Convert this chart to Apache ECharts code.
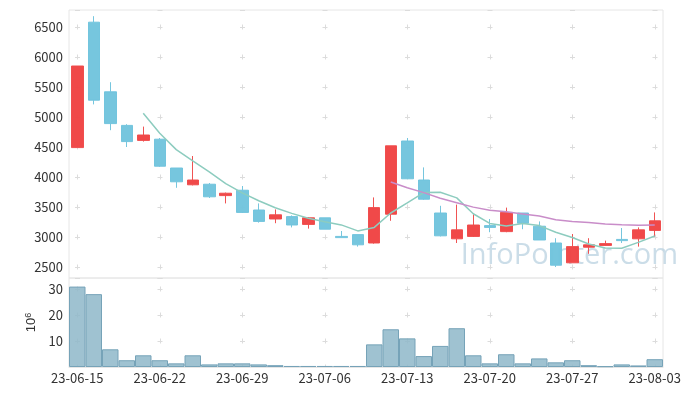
<!DOCTYPE html>
<html>
<head>
<meta charset="utf-8">
<script src="https://cdn.jsdelivr.net/npm/echarts@6/dist/echarts.min.js"></script>
<style>html,body{margin:0;padding:0;background:#fff}#c{width:696px;height:396px}</style>
</head>
<body>
<div id="c"></div>
<script>
const dates = ['23-06-15','23-06-16','23-06-19','23-06-20','23-06-21','23-06-22','23-06-23','23-06-26','23-06-27','23-06-28','23-06-29','23-06-30','23-07-03','23-07-04','23-07-05','23-07-06','23-07-07','23-07-10','23-07-11','23-07-12','23-07-13','23-07-14','23-07-17','23-07-18','23-07-19','23-07-20','23-07-21','23-07-24','23-07-25','23-07-26','23-07-27','23-07-28','23-07-31','23-08-01','23-08-02','23-08-03'];
const opens  = [4490,6580,5420,4860,4610,4630,4150,3870,3880,3690,3780,3450,3300,3340,3210,3320,3010,3040,2900,3380,4600,3950,3400,2970,3010,3190,3090,3400,3180,2900,2570,2830,2860,2960,2970,3110];
const closes = [5850,5280,4890,4590,4700,4180,3920,3950,3670,3730,3410,3260,3370,3200,3320,3130,2990,2870,3490,4520,3970,3630,3020,3120,3200,3160,3410,3230,2950,2530,2840,2870,2890,2940,3120,3270];
const lows   = [4490,5210,4780,4500,4590,4170,3820,3860,3650,3560,3400,3240,3230,3160,3140,3130,2990,2840,2890,3270,3970,3620,3010,2900,3000,3080,3080,3130,2950,2500,2570,2720,2855,2900,2840,3000];
const highs  = [5850,6680,5580,4880,4840,4650,4150,4350,3900,3740,3850,3560,3460,3360,3330,3320,3100,3040,3660,4520,4650,4160,3520,3540,3380,3300,3490,3400,3260,2980,3050,2980,2940,3150,3160,3410];
const volumes = [30.9,28.0,6.8,2.6,4.5,2.6,1.4,4.5,1.0,1.4,1.4,1.0,0.7,0.4,0.4,0.4,0.4,0.4,8.7,14.5,11.0,4.2,8.1,14.9,4.5,1.4,4.9,1.4,3.3,1.8,2.6,0.7,0.3,1.0,0.6,3.0];
const ma5  = ['-','-','-','-',5062,4728,4456,4268,4084,3890,3736,3604,3488,3394,3312,3256,3202,3102,3160,3400,3568,3740,3745,3652,3388,3226,3182,3224,3190,3080,2992,2884,2816,2814,2910,3018];
const ma20 = ['-','-','-','-','-','-','-','-','-','-','-','-','-','-','-','-','-','-','-',3916,3822,3740,3646,3572,3498,3446,3421,3385,3349,3289,3260,3241,3217,3204,3194,3201];
const priceTicks = [2500,3000,3500,4000,4500,5000,5500,6000,6500];
const volumeTicks = [10,20,30];

const candleData = dates.map((d, i) => [opens[i], closes[i], lows[i], highs[i]]);
const crossColor = '#dcdcdc';
const labelFont = {color:'#333', fontSize:13, fontFamily:'"Noto Sans CJK KR", "Noto Sans", sans-serif'};

const chart = echarts.init(document.getElementById('c'), null, {renderer:'canvas'});
chart.setOption({
  animation: false,
  backgroundColor: '#fff',
  graphic: [{
    type: 'text', right: 18, top: 241, z: 0,
    style: {text: 'InfoPointer.com', font: '29px "Open Sans"', fill: 'rgba(168,198,216,0.6)'}
  }],
  grid: [
    {left: 69, top: 10, width: 594, height: 268, show: true, borderColor: '#e6e6e6', borderWidth: 1},
    {left: 69, top: 278, width: 594, height: 89, show: true, borderColor: '#e6e6e6', borderWidth: 1}
  ],
  xAxis: [
    {type:'category', gridIndex:0, data: dates, boundaryGap: true,
     axisLine:{show:false}, axisTick:{show:false}, axisLabel:{show:false},
     splitLine:{show:true, interval:4, alignWithLabel:true, lineStyle:{color:crossColor, width:1, type:[5,25], dashOffset:15.5}}},
    {type:'category', gridIndex:1, data: dates, boundaryGap: true,
     axisLine:{show:true, lineStyle:{color:'#e6e6e6'}}, axisTick:{show:false},
     axisLabel:Object.assign({interval:4, margin:5}, labelFont),
     splitLine:{show:true, interval:4, alignWithLabel:true, lineStyle:{color:crossColor, width:1, type:[5,21], dashOffset:17.5}}}
  ],
  yAxis: [
    {type:'value', gridIndex:0, min:2317, max:6783, splitNumber:9, scale:true,
     axisLine:{show:false}, axisTick:{show:false},
     axisLabel:Object.assign({formatter: v => priceTicks.indexOf(v) >= 0 ? String(v) : '', margin:6}, labelFont),
     splitLine:{show:true, lineStyle:{color:crossColor, width:1, type:[5,77.5], dashOffset:76.5}}},
    {type:'value', gridIndex:1, min:0, max:34.2, interval:10,
     name:'10{s|6}', nameLocation:'middle', nameGap:25, nameRotate:90,
     nameTextStyle:{color:'#333', fontSize:13, rich:{s:{fontSize:9, verticalAlign:'top', color:'#333', padding:[0,0,6,0]}}},
     axisLine:{show:false}, axisTick:{show:false},
     axisLabel:Object.assign({formatter: v => volumeTicks.indexOf(v) >= 0 ? String(v) : '', margin:6}, labelFont),
     splitLine:{show:true, lineStyle:{color:crossColor, width:1, type:[5,77.5], dashOffset:76.5}}}
  ],
  series: [
    {type:'candlestick', xAxisIndex:0, yAxisIndex:0, data: candleData, barWidth: 12, z: 3,
     itemStyle:{color:'#ef3f3f', color0:'#6fc3dc', borderColor:'#ef4a4a', borderColor0:'#6fc3dc', borderWidth:1, opacity:0.95}},
    {type:'line', xAxisIndex:0, yAxisIndex:0, data: ma5, symbol:'none', z: 4,
     lineStyle:{color:'#8dccbf', width:1.5}},
    {type:'line', xAxisIndex:0, yAxisIndex:0, data: ma20, symbol:'none', z: 4,
     lineStyle:{color:'#c98dc9', width:1.5}},
    {type:'bar', xAxisIndex:1, yAxisIndex:1, data: volumes, barCategoryGap: '0%', z: 3,
     itemStyle:{color:'rgba(142,183,201,0.85)', borderColor:'#76a3b8', borderWidth:1}}
  ]
});
</script>
</body>
</html>
